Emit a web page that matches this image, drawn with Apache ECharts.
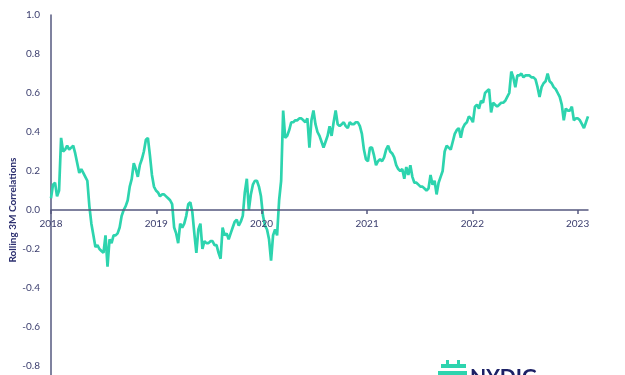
<!DOCTYPE html>
<html>
<head>
<meta charset="utf-8">
<script src="https://cdn.jsdelivr.net/npm/echarts@6/dist/echarts.min.js"></script>
<style>
  html, body { margin: 0; padding: 0; background: #ffffff; }
  #chart { width: 625px; height: 375px; }
</style>
</head>
<body>
<div id="chart"></div>
<script>
// Weekly rolling 3-month correlations, starting 2018-01-01
const startDate = '2018-01-01';
const weekStepDays = 7;
const correlations = [
  0.06, 0.13, 0.14, 0.07, 0.10, 0.37, 0.30, 0.31, 0.33, 0.31,
  0.32, 0.33, 0.29, 0.24, 0.19, 0.21, 0.19, 0.17, 0.15, 0.02,
  -0.07, -0.13, -0.19, -0.18, -0.20, -0.21, -0.22, -0.13, -0.29, -0.15,
  -0.17, -0.13, -0.13, -0.12, -0.09, -0.03, 0.00, 0.02, 0.05, 0.12,
  0.16, 0.24, 0.21, 0.17, 0.23, 0.26, 0.30, 0.36, 0.37, 0.28,
  0.18, 0.12, 0.10, 0.09, 0.07, 0.08, 0.08, 0.07, 0.06, 0.05,
  0.03, -0.09, -0.12, -0.17, -0.07, -0.09, -0.07, -0.03, 0.03, 0.04,
  -0.01, -0.12, -0.22, -0.10, -0.07, -0.20, -0.16, -0.17, -0.17, -0.16,
  -0.16, -0.18, -0.18, -0.22, -0.25, -0.09, -0.13, -0.12, -0.15, -0.12,
  -0.09, -0.06, -0.05, -0.08, -0.06, -0.03, 0.09, 0.16, 0.00, 0.08,
  0.13, 0.15, 0.15, 0.12, 0.07, -0.03, -0.08, -0.10, -0.15, -0.26,
  -0.13, -0.10, -0.13, 0.05, 0.15, 0.51, 0.37, 0.38, 0.41, 0.45,
  0.45, 0.46, 0.46, 0.47, 0.47, 0.46, 0.45, 0.47, 0.32, 0.46,
  0.51, 0.44, 0.40, 0.38, 0.35, 0.32, 0.35, 0.38, 0.43, 0.38,
  0.45, 0.51, 0.44, 0.43, 0.44, 0.45, 0.43, 0.42, 0.45, 0.44,
  0.44, 0.45, 0.45, 0.43, 0.39, 0.31, 0.26, 0.25, 0.32, 0.32,
  0.28, 0.23, 0.25, 0.26, 0.25, 0.27, 0.31, 0.33, 0.30, 0.29,
  0.27, 0.23, 0.21, 0.20, 0.21, 0.16, 0.22, 0.18, 0.23, 0.17,
  0.14, 0.14, 0.13, 0.12, 0.12, 0.11, 0.10, 0.11, 0.18, 0.13,
  0.15, 0.08, 0.14, 0.17, 0.20, 0.30, 0.33, 0.32, 0.31, 0.35,
  0.39, 0.41, 0.42, 0.37, 0.42, 0.44, 0.45, 0.48, 0.47, 0.45,
  0.53, 0.54, 0.52, 0.56, 0.55, 0.60, 0.61, 0.62, 0.50, 0.55,
  0.54, 0.53, 0.54, 0.55, 0.55, 0.56, 0.58, 0.60, 0.71, 0.68,
  0.63, 0.69, 0.69, 0.70, 0.68, 0.69, 0.69, 0.69, 0.68, 0.68,
  0.67, 0.63, 0.58, 0.63, 0.65, 0.66, 0.70, 0.66, 0.65, 0.63,
  0.62, 0.60, 0.58, 0.54, 0.46, 0.52, 0.51, 0.51, 0.53, 0.46,
  0.47, 0.47, 0.46, 0.44, 0.42, 0.45, 0.48
];
const yTicks = [-1.0, -0.8, -0.6, -0.4, -0.2, 0.0, 0.2, 0.4, 0.6, 0.8, 1.0];
const xMin = '2018-01-01';
const xMax = '2023-02-06';
const yAxisTitle = 'Rolling 3M Correlations';
const brandName = 'NYDIG';

const DAY = 24 * 3600 * 1000;
const t0 = new Date(startDate + 'T00:00:00Z').getTime();
const seriesData = correlations.map((v, i) => [t0 + i * weekStepDays * DAY, v]);

const navy = '#3b3e6e';
const chart = echarts.init(document.getElementById('chart'), null, { renderer: 'canvas' });
chart.setOption({
  animation: false,
  backgroundColor: '#ffffff',
  grid: { left: 51, right: 37, top: 15, bottom: -30, containLabel: false, outerBoundsMode: 'none' },
  xAxis: {
    type: 'time',
    position: 'bottom',
    offset: -195,
    min: new Date(xMin + 'T00:00:00Z').getTime(),
    max: new Date(xMax + 'T00:00:00Z').getTime(),
    minInterval: 365 * DAY,
    axisLine: { show: true, onZero: false, lineStyle: { color: '#55587f', width: 1.5 } },
    axisTick: { show: true, inside: false, length: 4, lineStyle: { color: '#55587f', width: 1.5 } },
    axisLabel: {
      show: true, inside: false,
      color: navy, fontSize: 10, fontFamily: 'Lato', margin: 9,
      formatter: function (val) { return String(new Date(val).getUTCFullYear()); },
      showMinLabel: true
    },
    splitLine: { show: false },
    z: 5
  },
  yAxis: {
    type: 'value',
    min: yTicks[0],
    max: yTicks[yTicks.length - 1],
    interval: 0.2,
    name: yAxisTitle,
    nameLocation: 'middle',
    nameGap: 33,
    nameMoveOverlap: false,
    nameRotate: 90,
    nameTextStyle: { color: '#2d3070', fontSize: 10, fontWeight: 'bold', fontFamily: 'Lato' },
    axisLine: { show: true, onZero: false, lineStyle: { color: '#55587f', width: 1.5 } },
    axisTick: { show: false },
    axisLabel: {
      color: navy, fontSize: 10, fontFamily: 'Lato', margin: 11,
      formatter: function (v) { return v.toFixed(1); }
    },
    splitLine: { show: false }
  },
  series: [{
    type: 'line',
    data: seriesData,
    showSymbol: false,
    symbol: 'none',
    lineStyle: { color: '#2dd4ae', width: 2.7 },
    z: 3
  }],
  graphic: [
    { type: 'rect', left: 441, top: 364, shape: { width: 25, height: 4 }, style: { fill: '#2dd4ae' } },
    { type: 'rect', left: 446, top: 360, shape: { width: 3, height: 5 }, style: { fill: '#2dd4ae' } },
    { type: 'rect', left: 457, top: 360, shape: { width: 3, height: 5 }, style: { fill: '#2dd4ae' } },
    { type: 'rect', left: 438, top: 371, shape: { width: 29, height: 4 }, style: { fill: '#2dd4ae' } },
    { type: 'text', left: 470, top: 367, style: { text: brandName, fill: '#1c2166', font: 'bold 21px Lato' } }
  ]
});
</script>
</body>
</html>
